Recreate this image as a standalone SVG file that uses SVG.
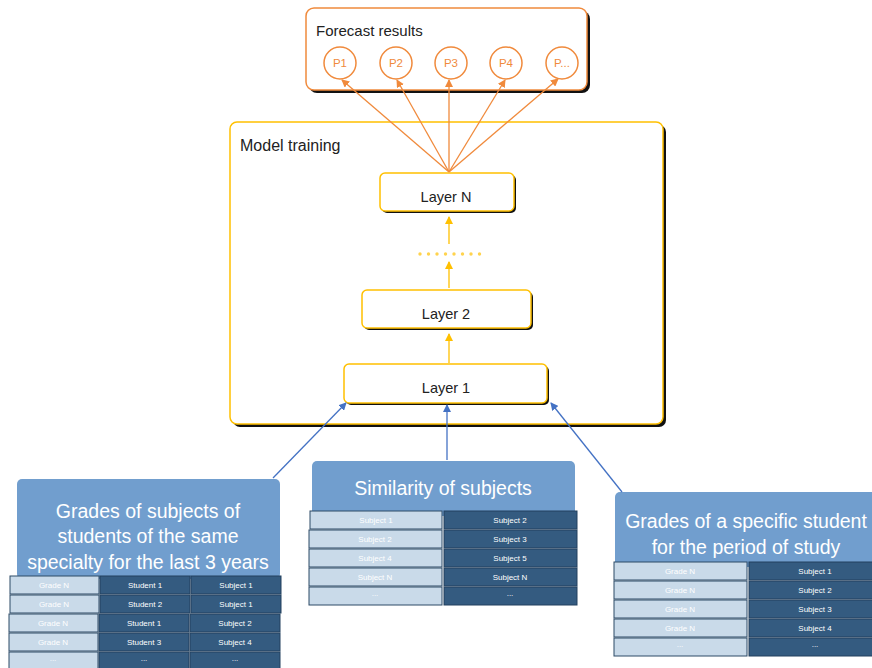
<svg xmlns="http://www.w3.org/2000/svg" width="872" height="668" viewBox="0 0 872 668">
<defs>
<style>
text{font-family:"Liberation Sans","Open Sans",Arial,sans-serif}
.shadow{fill:#111}
.orangebox{fill:#fff;stroke:#F08A3C;stroke-width:1.5}
.goldbox{fill:#fff;stroke:#FFC000;stroke-width:1.5}
.title{font-size:15px;fill:#222}
.layer{font-size:14.5px;fill:#222;text-anchor:middle}
.pc{fill:#fff;stroke:#F08A3C;stroke-width:1.5}
.pt{font-size:11.5px;fill:#F08A3C;text-anchor:middle}
.bluebox{fill:#719ECE}
.btitle{font-size:19.5px;fill:#fff;text-anchor:middle}
.lc{fill:#C9DAE9;stroke:#2C4A66;stroke-width:1}
.dc{fill:#345B80;stroke:#22405E;stroke-width:1}
.ct{font-size:8px;fill:#fff;text-anchor:middle}
.oa{stroke:#F08A3C;stroke-width:1.3;fill:none;marker-end:url(#ao)}
.ga{stroke:#FFC000;stroke-width:1.3;fill:none;marker-end:url(#ag)}
.ba{stroke:#4472C4;stroke-width:1.3;fill:none;marker-end:url(#ab)}
</style>
<marker id="ao" markerWidth="8" markerHeight="8" refX="7" refY="4" orient="auto" markerUnits="userSpaceOnUse"><path d="M0,0 L8,4 L0,8 z" fill="#F08A3C"/></marker>
<marker id="ag" markerWidth="8" markerHeight="8" refX="7" refY="4" orient="auto" markerUnits="userSpaceOnUse"><path d="M0,0 L8,4 L0,8 z" fill="#FFC000"/></marker>
<marker id="ab" markerWidth="8" markerHeight="8" refX="7" refY="4" orient="auto" markerUnits="userSpaceOnUse"><path d="M0,0 L8,4 L0,8 z" fill="#4472C4"/></marker>
</defs>
<rect width="872" height="668" fill="#fff"/>

<g id="forecast">
<rect class="shadow" x="309" y="11" width="281" height="82" rx="8"/>
<rect class="orangebox" x="306" y="8" width="281" height="82" rx="8"/>
<text class="title" x="316" y="36">Forecast results</text>
</g>
<g id="p1"><circle class="pc" cx="340" cy="63" r="16"/><text class="pt" x="340" y="67">P1</text></g>
<g id="p2"><circle class="pc" cx="396" cy="63" r="16"/><text class="pt" x="396" y="67">P2</text></g>
<g id="p3"><circle class="pc" cx="451" cy="63" r="16"/><text class="pt" x="451" y="67">P3</text></g>
<g id="p4"><circle class="pc" cx="506" cy="63" r="16"/><text class="pt" x="506" y="67">P4</text></g>
<g id="p5"><circle class="pc" cx="562" cy="63" r="16"/><text class="pt" x="562" y="67">P...</text></g>

<g id="model-training">
<rect class="shadow" x="233" y="125" width="433" height="302" rx="7"/>
<rect class="goldbox" x="230" y="122" width="433" height="302" rx="7"/>
<text class="title" x="240" y="151" style="font-size:16px">Model training</text>
</g>
<g id="layer-n">
<rect class="shadow" x="382" y="175" width="134" height="38" rx="5"/>
<rect class="goldbox" x="380" y="173" width="134" height="38" rx="5"/>
<text class="layer" x="446" y="202">Layer N</text>
</g>
<g id="dots">
<g fill="#FFD34D"><circle cx="420" cy="254" r="1.7"/><circle cx="428.5" cy="254" r="1.7"/><circle cx="437" cy="254" r="1.7"/><circle cx="445.5" cy="254" r="1.7"/><circle cx="454" cy="254" r="1.7"/><circle cx="462.5" cy="254" r="1.7"/><circle cx="471" cy="254" r="1.7"/><circle cx="479.5" cy="254" r="1.7"/></g>
</g>
<g id="layer-2">
<rect class="shadow" x="364" y="292" width="169" height="38" rx="5"/>
<rect class="goldbox" x="362" y="290" width="169" height="38" rx="5"/>
<text class="layer" x="446" y="319">Layer 2</text>
</g>
<g id="layer-1">
<rect class="shadow" x="346" y="366" width="203" height="39" rx="5"/>
<rect class="goldbox" x="344" y="364" width="203" height="39" rx="5"/>
<text class="layer" x="446" y="393">Layer 1</text>
</g>

<g id="grades-students">
<rect class="bluebox" x="17" y="479" width="263" height="100" rx="5"/>
<text class="btitle" x="148" y="518">Grades of subjects of</text>
<text class="btitle" x="148" y="543">students of the same</text>
<text class="btitle" x="148" y="569">specialty for the last 3 years</text>
<rect class="lc" x="10" y="576" width="89" height="18"/><rect class="dc" x="100" y="576" width="90" height="18"/><rect class="dc" x="191" y="576" width="90" height="18"/>
<text class="ct" x="54" y="588">Grade N</text><text class="ct" x="145" y="588">Student 1</text><text class="ct" x="236" y="588">Subject 1</text>
<rect class="lc" x="10" y="595" width="89" height="18"/><rect class="dc" x="100" y="595" width="90" height="18"/><rect class="dc" x="191" y="595" width="90" height="18"/>
<text class="ct" x="54" y="607">Grade N</text><text class="ct" x="145" y="607">Student 2</text><text class="ct" x="236" y="607">Subject 1</text>
<rect class="lc" x="9" y="614" width="89" height="18"/><rect class="dc" x="99" y="614" width="90" height="18"/><rect class="dc" x="190" y="614" width="90" height="18"/>
<text class="ct" x="53" y="626">Grade N</text><text class="ct" x="144" y="626">Student 1</text><text class="ct" x="235" y="626">Subject 2</text>
<rect class="lc" x="9" y="633" width="89" height="18"/><rect class="dc" x="99" y="633" width="90" height="18"/><rect class="dc" x="190" y="633" width="90" height="18"/>
<text class="ct" x="53" y="645">Grade N</text><text class="ct" x="144" y="645">Student 3</text><text class="ct" x="235" y="645">Subject 4</text>
<rect class="lc" x="9" y="652" width="89" height="18"/><rect class="dc" x="99" y="652" width="90" height="18"/><rect class="dc" x="190" y="652" width="90" height="18"/>
<text class="ct" x="53" y="661">...</text><text class="ct" x="144" y="661">...</text><text class="ct" x="235" y="661">...</text>
</g>

<g id="similarity">
<rect class="bluebox" x="312" y="461" width="263" height="55" rx="5"/>
<text class="btitle" x="443" y="495">Similarity of subjects</text>
<rect class="lc" x="310" y="511" width="132" height="18"/><rect class="dc" x="444" y="511" width="133" height="18"/>
<text class="ct" x="376" y="523">Subject 1</text><text class="ct" x="510" y="523">Subject 2</text>
<rect class="lc" x="309" y="530" width="133" height="18"/><rect class="dc" x="444" y="530" width="133" height="18"/>
<text class="ct" x="375" y="542">Subject 2</text><text class="ct" x="510" y="542">Subject 3</text>
<rect class="lc" x="309" y="549" width="133" height="18"/><rect class="dc" x="444" y="549" width="133" height="18"/>
<text class="ct" x="375" y="561">Subject 4</text><text class="ct" x="510" y="561">Subject 5</text>
<rect class="lc" x="309" y="568" width="133" height="18"/><rect class="dc" x="444" y="568" width="133" height="18"/>
<text class="ct" x="375" y="580">Subject N</text><text class="ct" x="510" y="580">Subject N</text>
<rect class="lc" x="309" y="587" width="133" height="18"/><rect class="dc" x="444" y="587" width="133" height="18"/>
<text class="ct" x="375" y="596">...</text><text class="ct" x="510" y="596">...</text>
</g>

<g id="grades-specific">
<rect class="bluebox" x="615" y="492" width="262" height="75" rx="5"/>
<text class="btitle" x="746" y="528">Grades of a specific student</text>
<text class="btitle" x="746" y="554">for the period of study</text>
<rect class="lc" x="614" y="562" width="133" height="18"/><rect class="dc" x="749" y="562" width="124" height="18"/>
<text class="ct" x="680" y="574">Grade N</text><text class="ct" x="815" y="574">Subject 1</text>
<rect class="lc" x="614" y="581" width="133" height="18"/><rect class="dc" x="749" y="581" width="124" height="18"/>
<text class="ct" x="680" y="593">Grade N</text><text class="ct" x="815" y="593">Subject 2</text>
<rect class="lc" x="614" y="600" width="133" height="18"/><rect class="dc" x="749" y="600" width="124" height="18"/>
<text class="ct" x="680" y="612">Grade N</text><text class="ct" x="815" y="612">Subject 3</text>
<rect class="lc" x="614" y="619" width="133" height="18"/><rect class="dc" x="749" y="619" width="124" height="18"/>
<text class="ct" x="680" y="631">Grade N</text><text class="ct" x="815" y="631">Subject 4</text>
<rect class="lc" x="614" y="638" width="133" height="18"/><rect class="dc" x="749" y="638" width="124" height="18"/>
<text class="ct" x="680" y="647">...</text><text class="ct" x="815" y="647">...</text>
</g>

<g id="connectors">
<line class="oa" x1="449" y1="172" x2="342" y2="80"/>
<line class="oa" x1="449" y1="172" x2="397" y2="80"/>
<line class="oa" x1="449" y1="172" x2="449" y2="80"/>
<line class="oa" x1="449" y1="172" x2="505" y2="80"/>
<line class="oa" x1="449" y1="172" x2="558" y2="79"/>
<line class="ga" x1="449" y1="244" x2="449" y2="217"/>
<line class="ga" x1="449" y1="288" x2="449" y2="262"/>
<line class="ga" x1="449" y1="363" x2="449" y2="334"/>
<line class="ba" x1="273" y1="478" x2="346" y2="403"/>
<line class="ba" x1="447" y1="460" x2="447" y2="405"/>
<line class="ba" x1="622" y1="492" x2="551" y2="403"/>
</g>
</svg>
